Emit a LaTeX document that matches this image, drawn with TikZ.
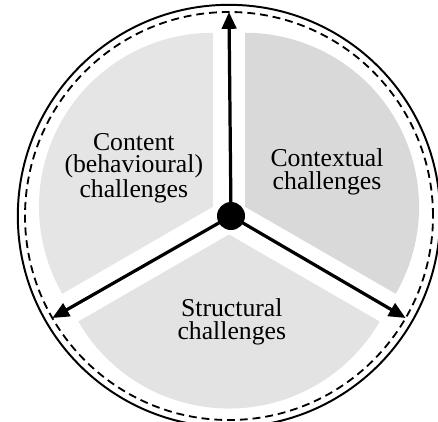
\documentclass[tikz,border=0pt]{standalone}
\usepackage{fontspec}
\setmainfont{Liberation Serif}
\usetikzlibrary{arrows.meta}
\begin{document}
\begin{tikzpicture}[thick,
		lbl/.style={align=center,font=\fontsize{18.3}{16}\selectfont},
		ray/.style={draw=black,line width=2.3pt,-{Triangle[length=4.2mm,width=3.6mm]}}]
			\clip (-5.725,-5.125) rectangle (5.225,5.4);
			% the three pieces, pulled apart
			\begin{scope}
				\fill[black!10,shift={(150:0.4625)}] (0,0) -- (90:4.35) arc (90:210:4.35) -- cycle;
				\fill[black!15,shift={(30:0.4625)}] (0,0) -- (-30:4.35) arc (-30:90:4.35) -- cycle;
				\fill[black!11,shift={(270:0.4625)}] (0,0) -- (210:4.35) arc (210:330:4.35) -- cycle;
			\end{scope}
			% rims
			\draw[black,line width=1.4pt] (0,0) circle (5.28);
			\draw[black,line width=1.3pt,dash pattern=on 5.6pt off 3.5pt] (0,0) circle (5.1);
			\begin{scope}
				\node[lbl] (content) at (-2.38,1.2) {Content\\(behavioural)\\challenges};
				\node[lbl] (context) at (2.45,1.1) {Contextual\\challenges};
				\node[lbl] (struct) at (0.07,-2.65) {Structural\\challenges};
			\end{scope}
			\coordinate (up) at (90:5.1);
			\coordinate (left) at (210:5.1);
			\coordinate (right) at (330:5.1);
			\node[circle,fill=black,inner sep=0pt,minimum size=0.7cm] (hub) at (0.05,0) {};
			\path[ray] (hub.center) -- (up);
			\path[ray] (hub.center) -- (left);
			\path[ray] (hub.center) -- (right);
		\end{tikzpicture}
\end{document}
